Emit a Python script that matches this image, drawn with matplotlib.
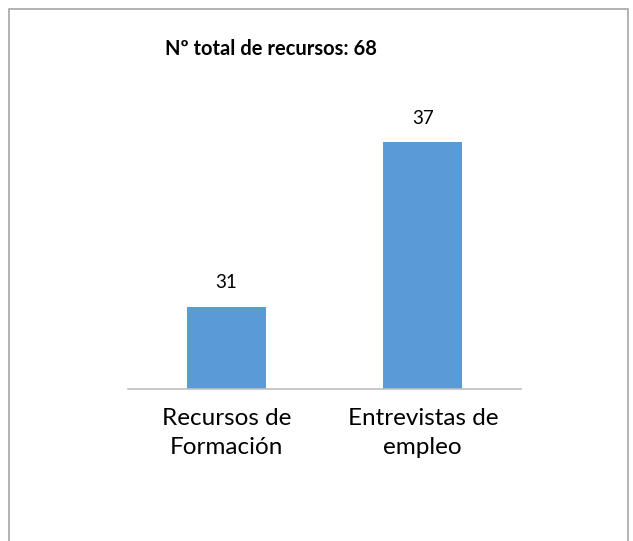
import matplotlib.pyplot as plt
from matplotlib.patches import Rectangle

# Datos del gráfico
categorias = ['Recursos de\nFormación', 'Entrevistas de\nempleo']
valores = [31, 37]
titulo = 'Nº total de recursos: 68'

plt.rcParams['font.family'] = ['Lato', 'DejaVu Sans']

fig = plt.figure(figsize=(6.33, 5.41), dpi=100)
ax = fig.add_axes([0.2022, 0.281, 0.6209, 0.508])

x = range(len(categorias))
ax.bar(x, valores, width=0.40, color='#5B9BD5')
ax.set_xlim(-0.5, 1.5)
ax.set_ylim(28, 38)

for xi, v in zip(x, valores):
    ax.annotate(str(v), (xi, v), xytext=(0, 17), textcoords='offset points',
                ha='center', va='center', fontsize=13.5)

ax.set_xticks(list(x))
ax.set_xticklabels(categorias, fontsize=17.5, linespacing=1.45)
ax.tick_params(axis='x', length=0, pad=14)
ax.set_yticks([])
for s in ['top', 'right', 'left']:
    ax.spines[s].set_visible(False)
ax.spines['bottom'].set_color('#BFBFBF')
ax.spines['bottom'].set_linewidth(1.2)

fig.text(0.428, 0.909, titulo, ha='center', va='center', fontsize=14.5, fontweight='bold')

# marco del gráfico (el borde inferior queda fuera de la imagen)
fig.patches.append(Rectangle((9 / 633, -0.05), 619 / 633, 1.05 - 9 / 541,
                             transform=fig.transFigure, fill=False,
                             edgecolor='#A6A6A6', linewidth=1.2))

fig.savefig('out.png', dpi=100)
